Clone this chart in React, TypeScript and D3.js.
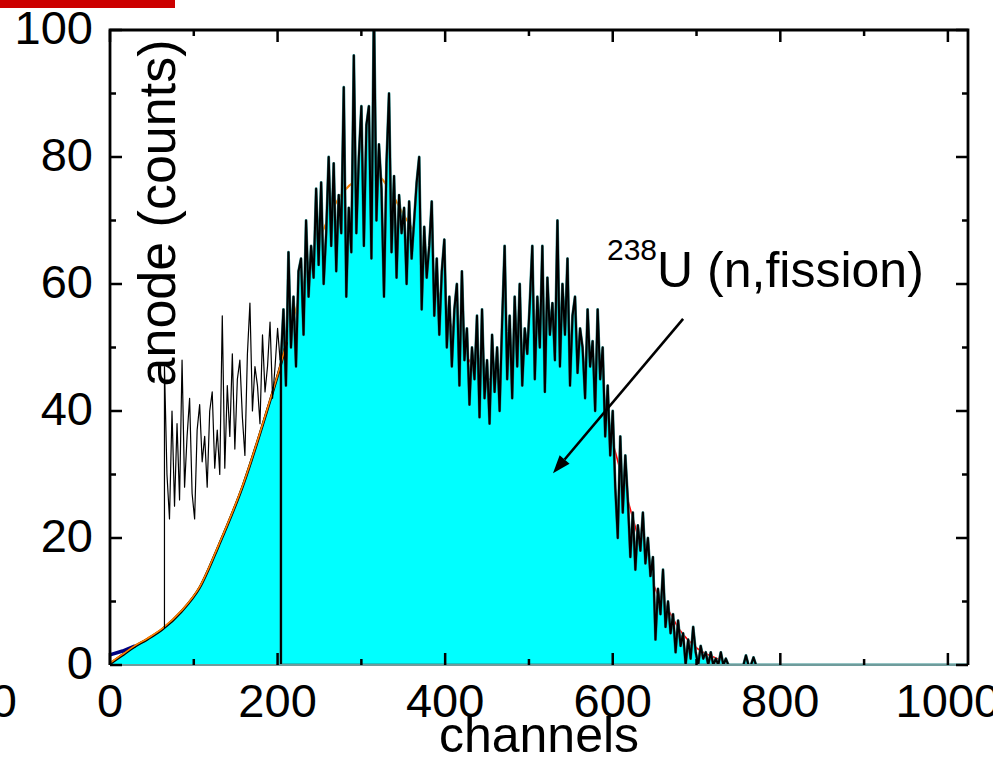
import React from "react";
import * as d3 from "d3";

const W = 993;
const H = 770;

// fit curve (smooth) : channel / counts
const fitCh = [0, 14, 28, 45, 63, 85, 107, 130, 159, 187, 204, 211, 229, 247, 274, 298, 320, 330, 350, 368, 396, 426, 453, 463, 495, 521, 533, 549, 561, 569, 585, 600, 620, 640, 653, 666, 680, 700, 728, 740];
const fitVal = [0.3, 1.6, 2.9, 4.2, 5.8, 8.5, 12.3, 19, 28.5, 40, 47.5, 51, 59, 66, 73.7, 76.5, 77, 75.6, 71, 67, 57, 48.5, 45, 45, 48, 51, 52, 50.7, 49, 46.5, 41, 35, 25, 16, 11.3, 8.7, 5.5, 2.7, 0.8, 0];

// background component near zero
const bgCh = [0, 15, 30];
const bgVal = [1.6, 2.2, 3];

// raw anode spectrum (low channels), start channel 65, step 3
const rawStart = 65;
const rawStep = 3;
const rawVal = [47, 30, 23, 40, 25, 38, 26, 48, 28, 36, 42, 27, 23, 37, 41, 32, 36, 28, 40, 43, 31, 37, 30, 55, 31, 44, 36, 49, 34, 45, 48, 39, 33, 49, 57, 40, 47, 44, 38, 52, 43, 47, 54, 42, 47, 53, 48];

// 238U (n,fission) spectrum, start channel 204, step 3
const fisStart = 204;
const fisStep = 3;
const fisVal = [
  48, 56, 44, 65, 50, 58, 47, 62, 64, 52,
  70, 58, 66, 61, 75, 63, 76, 60, 68, 80,
  66, 79, 62, 74, 68, 91, 58, 72, 65, 96,
  68, 80, 88, 66, 85, 88, 64, 104, 70, 82,
  75, 58, 79, 90, 65, 77, 61, 74, 68, 72,
  60, 73, 64, 70, 76, 80, 56, 69, 61, 66,
  73, 55, 64, 52, 62, 67, 50, 58, 47, 56,
  60, 44, 62, 48, 53, 41, 50, 45, 55, 39,
  56, 42, 48, 38, 52, 43, 50, 40, 54, 66,
  45, 55, 42, 58, 47, 60, 44, 53, 49, 57,
  66, 45, 58, 50, 66, 43, 61, 52, 57, 48,
  70, 47, 60, 52, 64, 44, 55, 58, 46, 53,
  50, 42, 56, 47, 51, 40, 56, 45, 50, 36,
  44, 33, 40, 28, 20, 36, 24, 33, 26, 17,
  24, 15, 22, 18, 24, 16, 20, 14, 17, 4,
  12, 8, 15, 6, 10, 5, 8, 2, 7, 3,
  5, 0, 4, 1, 6, 2, 0, 3, 1, 2,
  0, 2, 0, 1, 0, 2, 0, 1, 0, 0,
  0, 0, 0, 0, 0, 1.5, 0, 0, 1.2, 0,
];
const tailCh = [774, 1024];
const tailVal = [0, 0];

const xMajor = [0, 200, 400, 600, 800, 1000];
const xMinor = [100, 300, 500, 700, 900];
const yMajor = [0, 20, 40, 60, 80, 100];
const yMinor = [10, 30, 50, 70, 90];

const FONT = "'Liberation Sans', Arial, Helvetica, sans-serif";

export default function App() {
  const x = d3.scaleLinear().domain([0, 1024]).range([110, 968]);
  const y = d3.scaleLinear().domain([0, 100]).range([665, 30]);

  type P = [number, number];
  const fit: P[] = fitCh.map((c, i) => [c, fitVal[i]]);
  const bg: P[] = bgCh.map((c, i) => [c, bgVal[i]]);
  const raw: P[] = rawVal.map((v, i) => [rawStart + i * rawStep, v]);
  const fis: P[] = fisVal.map((v, i) => [fisStart + i * fisStep, v] as P).concat(tailCh.map((c, i) => [c, tailVal[i]] as P));

  const lineM = d3.line<P>().x((d) => x(d[0])).y((d) => y(d[1])).curve(d3.curveMonotoneX);
  const lineL = d3.line<P>().x((d) => x(d[0])).y((d) => y(d[1]));
  const areaM = d3.area<P>().x((d) => x(d[0])).y0(y(0)).y1((d) => y(d[1])).curve(d3.curveMonotoneX);
  const areaL = d3.area<P>().x((d) => x(d[0])).y0(y(0)).y1((d) => y(d[1]));

  const fitLeft = fit.filter((d) => d[0] <= 211);
  const fitOrange = fit.filter((d) => d[0] <= 396);
  const fitRed = fit.filter((d) => d[0] >= 396);

  const rawPath: P[] = [[rawStart, fit[4][1]] as P].concat(raw);
  const fisPath: P[] = [[fisStart, 0] as P].concat(fis);

  // annotation arrow in data coordinates
  const a0: P = [684, 54.5];
  const a1: P = [528.7, 30.2];
  const ax0 = x(a0[0]), ay0 = y(a0[1]), ax1 = x(a1[0]), ay1 = y(a1[1]);
  const ang = Math.atan2(ay1 - ay0, ax1 - ax0);
  const hl = 18, hw = 6.5;
  const bx = ax1 - hl * Math.cos(ang), by = ay1 - hl * Math.sin(ang);
  const head = `${ax1},${ay1} ${bx + hw * Math.sin(ang)},${by - hw * Math.cos(ang)} ${bx - hw * Math.sin(ang)},${by + hw * Math.cos(ang)}`;

  const tickW = 2.5;

  return (
    <svg width={W} height={H} style={{ position: "absolute", left: 0, top: 0, background: "#fff" }} fontFamily={FONT}>
      <defs>
        <clipPath id="plotClip">
          <rect x={x(0)} y={y(100)} width={x(1024) - x(0)} height={y(0) - y(100)} />
        </clipPath>
      </defs>
      <rect x={0} y={0} width={175} height={8} fill="#cc0000" />

      {/* y label (under data) */}
      <text transform={`translate(175,213) rotate(-90)`} textAnchor="middle" fontSize={52} fill="#000">anode (counts)</text>

      <g clipPath="url(#plotClip)">
        {/* fit drawn beneath the filled spectrum */}
        <path d={lineM(fitOrange) || ""} fill="none" stroke="#ff8000" strokeWidth={2} />
        <path d={lineM(fitRed) || ""} fill="none" stroke="#ff0000" strokeWidth={1.6} />
        <path d={areaM(fitLeft) || ""} fill="#00ffff" />
        <path d={areaL(fis) || ""} fill="#00ffff" stroke="#2f8a8a" strokeWidth={2.8} strokeLinejoin="round" />
        <path d={lineL(bg) || ""} fill="none" stroke="#000080" strokeWidth={3.5} />
        <path d={lineM(fitLeft) || ""} fill="none" stroke="#000" strokeWidth={2.6} transform="translate(0,0.8)" />
        <path d={lineM(fitLeft) || ""} fill="none" stroke="#ff8000" strokeWidth={1.6} />
        <path d={lineL(rawPath) || ""} fill="none" stroke="#000" strokeWidth={1.2} strokeLinejoin="round" />
        <path d={lineL(fisPath) || ""} fill="none" stroke="#000" strokeWidth={2} strokeLinejoin="round" />
      </g>

      {/* frame */}
      <line x1={x(0)} x2={x(1024)} y1={y(0)} y2={y(0)} stroke="#6f9c9c" strokeWidth={2} />
      <path d={`M${x(0)},${y(0)}V${y(100)}H${x(1024)}V${y(0)}`} fill="none" stroke="#000" strokeWidth={2.8} />

      {/* ticks */}
      {xMajor.map((t) => (
        <g key={"xM" + t}>
          <line x1={x(t)} x2={x(t)} y1={y(0)} y2={y(0) - 12} stroke="#000" strokeWidth={tickW} />
          <line x1={x(t)} x2={x(t)} y1={y(100)} y2={y(100) + 12} stroke="#000" strokeWidth={tickW} />
          <text x={x(t)} y={717} textAnchor="middle" fontSize={47} fill="#000">{t}</text>
        </g>
      ))}
      {xMinor.map((t) => (
        <g key={"xm" + t}>
          <line x1={x(t)} x2={x(t)} y1={y(0)} y2={y(0) - 6} stroke="#000" strokeWidth={tickW} />
          <line x1={x(t)} x2={x(t)} y1={y(100)} y2={y(100) + 6} stroke="#000" strokeWidth={tickW} />
        </g>
      ))}
      {yMajor.map((t) => (
        <g key={"yM" + t}>
          <line x1={x(0)} x2={x(0) + 12} y1={y(t)} y2={y(t)} stroke="#000" strokeWidth={tickW} />
          <line x1={x(1024)} x2={x(1024) - 12} y1={y(t)} y2={y(t)} stroke="#000" strokeWidth={tickW} />
          <text x={93} y={y(t) + 14} textAnchor="end" fontSize={47} fill="#000">{t}</text>
        </g>
      ))}
      {yMinor.map((t) => (
        <g key={"ym" + t}>
          <line x1={x(0)} x2={x(0) + 6} y1={y(t)} y2={y(t)} stroke="#000" strokeWidth={tickW} />
          <line x1={x(1024)} x2={x(1024) - 6} y1={y(t)} y2={y(t)} stroke="#000" strokeWidth={tickW} />
        </g>
      ))}

      {/* cropped neighbouring label */}
      <text x={17} y={717} textAnchor="end" fontSize={47} fill="#000">0</text>

      <text x={(x(0) + x(1024)) / 2} y={752} textAnchor="middle" fontSize={50} fill="#000">channels</text>

      {/* annotation */}
      <text x={607} y={287} fill="#000">
        <tspan fontSize={30} dy={-27}>238</tspan>
        <tspan fontSize={50} dy={27}>U (n,fission)</tspan>
      </text>
      <line x1={ax0} y1={ay0} x2={bx} y2={by} stroke="#000" strokeWidth={2.6} />
      <polygon points={head} fill="#000" />
    </svg>
  );
}
